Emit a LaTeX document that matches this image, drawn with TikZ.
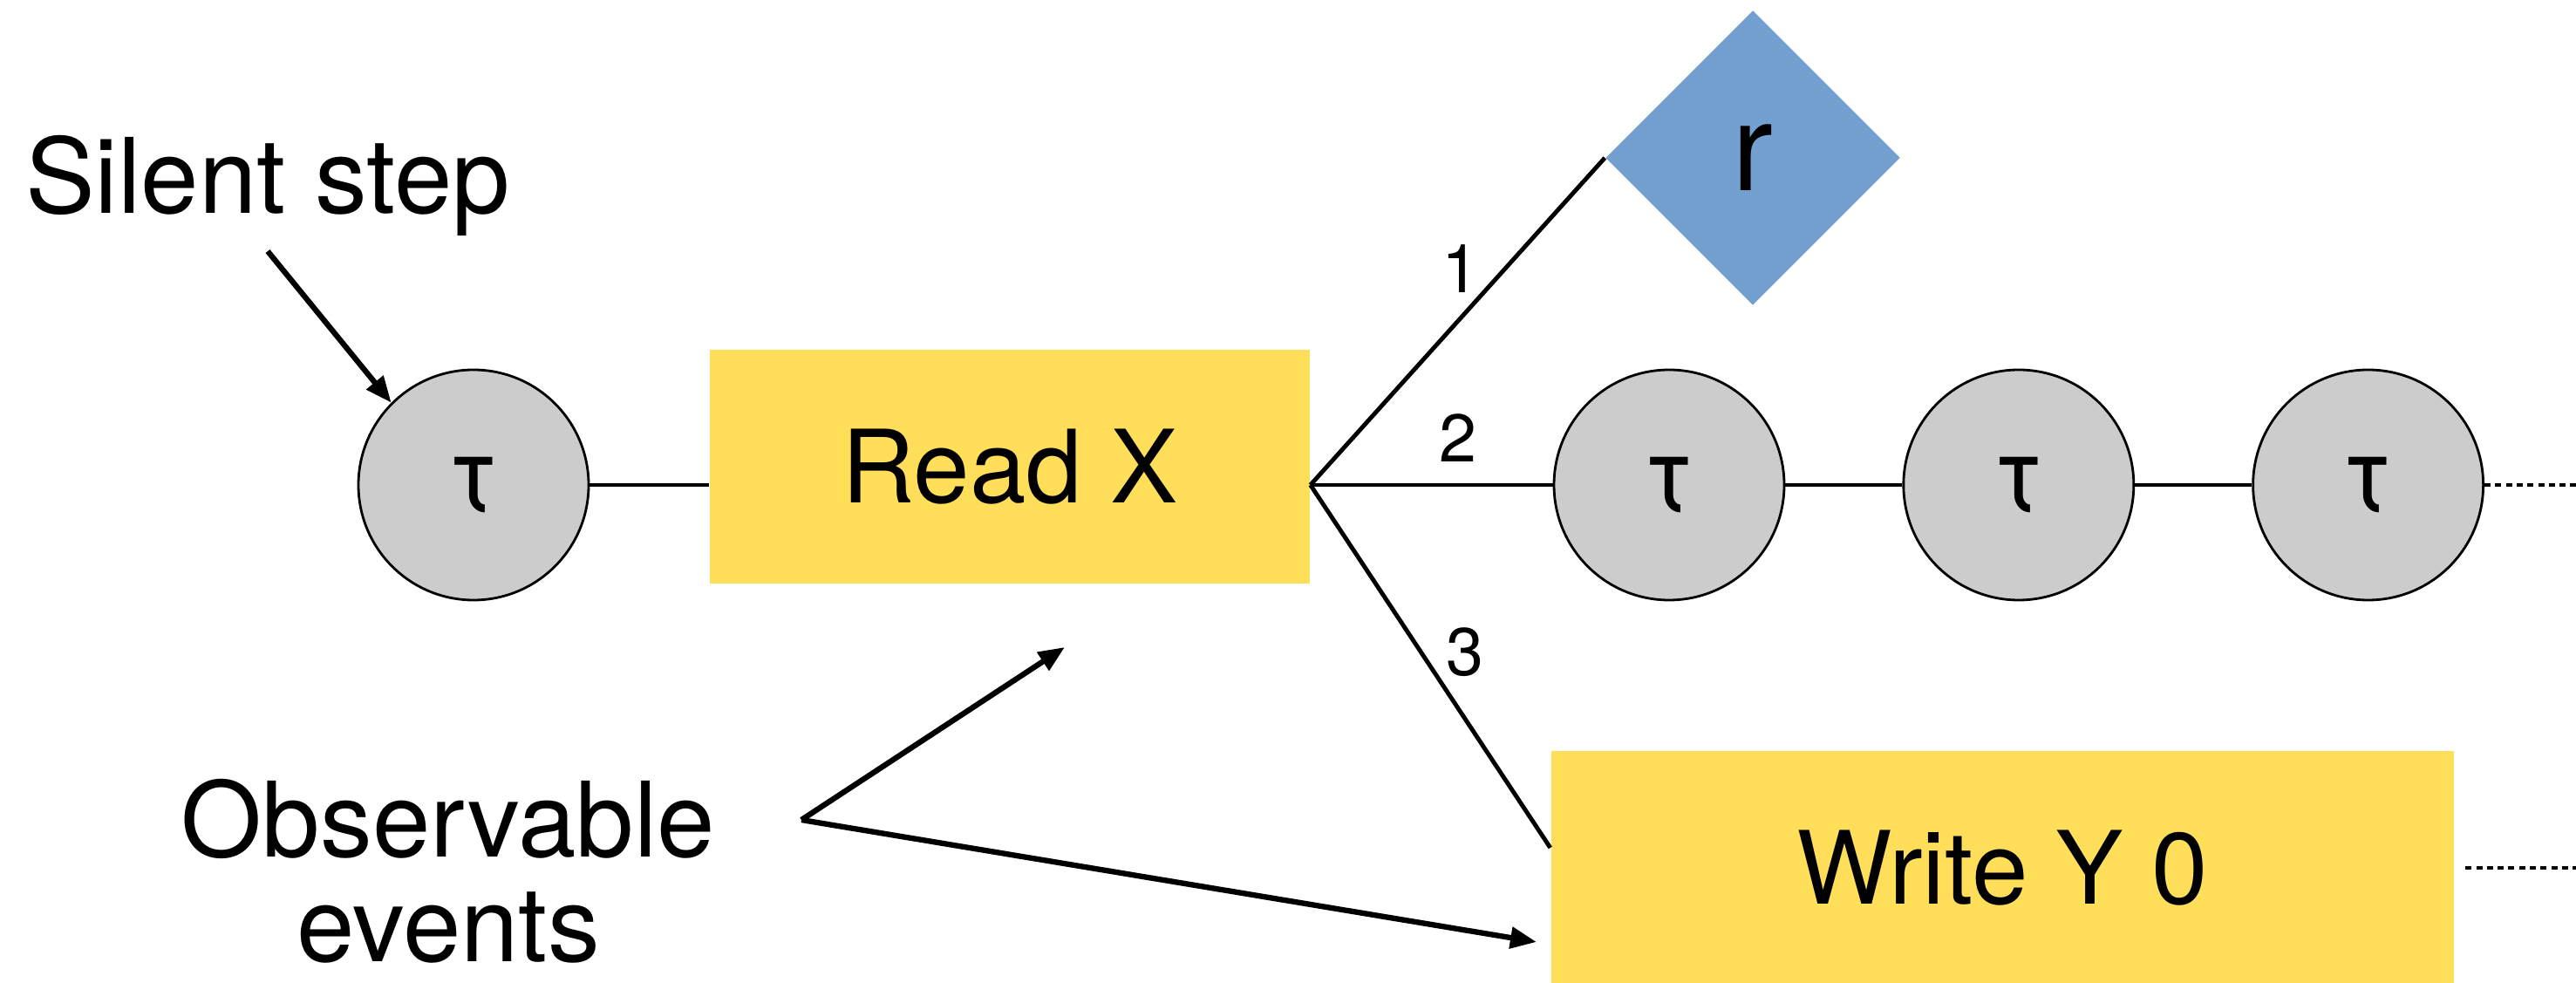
\documentclass[tikz,border=0pt]{standalone}
\usepackage{fontspec}
\setmainfont{TeX Gyre Heros}
\usetikzlibrary{arrows.meta,shapes.geometric,positioning}

\definecolor{evyellow}{HTML}{FFDE5A}
\definecolor{retblue}{HTML}{74A0D0}

\begin{document}
\begin{tikzpicture}[
  silent/.style={circle, draw, line width=0.8pt, fill=gray!40, minimum size=2.64cm, inner sep=0pt, font=\fontsize{34}{36}\selectfont},
  event/.style={rectangle, fill=evyellow, inner sep=0pt, minimum height=2.68cm, font=\fontsize{33}{36}\selectfont},
  ret/.style={diamond, fill=retblue, minimum size=3.38cm, inner sep=0pt, font=\fontsize{40}{44}\selectfont},
  link/.style={line width=1.4pt},
  note/.style={-{Triangle[length=0.3cm,width=0.24cm]}, line width=1.8pt},
  lbl/.style={font=\fontsize{22}{24}\selectfont},
  more/.style={line width=1.3pt, dash pattern=on 2pt off 1.5pt},
  node distance=1.34cm
]
\useasboundingbox (0,0) rectangle (29.54,11.26);

% main run
\node[silent] (tau1) at (5.43,5.70) {τ};
\node[event, minimum width=6.88cm] (readx) at (11.58,5.91) {Read X};
\coordinate (fork) at (readx.east |- tau1);
\node[ret] (ret) at (20.10,9.45) {r};
\node[silent] (tau2) at (19.14,5.70) {τ};
\node[silent, right=of tau2] (tau3) {τ};
\node[silent, right=of tau3] (tau4) {τ};
\node[event, minimum width=10.35cm] (writey) at (22.96,1.31) {Write Y 0};

\draw[link] (tau1) -- (tau1 -| readx.west);
\draw[link] (fork) -- (ret.west) node[lbl, pos=0.66, left=0.15cm] {1};
\draw[link] (fork) -- (tau2) node[lbl, pos=0.61, above=0.12cm] {2};
\draw[link] (fork) -- ([yshift=2.3mm]writey.west) node[lbl, pos=0.46, right=0.15cm] {3};
\draw[link] (tau2) -- (tau3);
\draw[link] (tau3) -- (tau4);
\draw[more] (tau4.east) -- (29.54,5.70);
\draw[more] ([xshift=1.3mm]writey.east) -- (29.54,1.31);

% annotations
\node[font=\fontsize{34}{36}\selectfont] (silentlbl) at (3.07,9.13) {Silent step};
\draw[note] ([yshift=-0.5mm]silentlbl.south) -- (tau1.135);

\node[font=\fontsize{34}{34}\selectfont, align=center] (obslbl) at (5.14,1.27) {Observable\\events};
\coordinate (obs) at (9.19,1.86);
\coordinate (obsread) at (12.21,3.84);
\coordinate (obswrite) at (17.62,0.46);
\draw[note] (obs) -- (obsread);
\draw[note] (obs) -- (obswrite);
\end{tikzpicture}
\end{document}
